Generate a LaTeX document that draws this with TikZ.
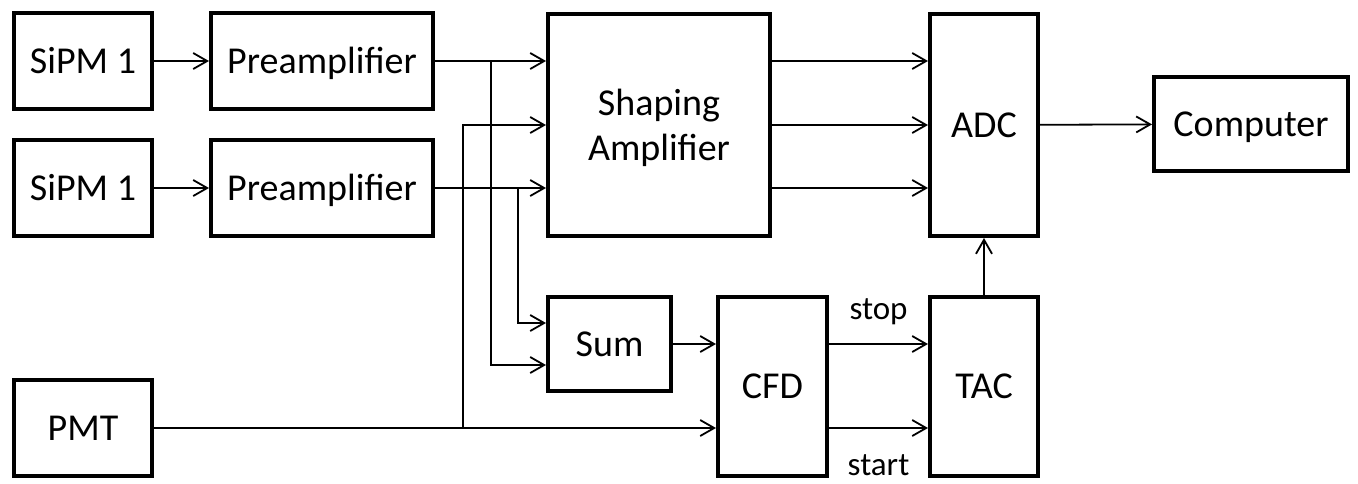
\documentclass[tikz,border=0pt]{standalone}
\usepackage{fontspec}
\setmainfont{Carlito}
\usepackage{tikz}
\usetikzlibrary{arrows.meta,positioning,calc}
\tikzset{
  arr/.style={-{Straight Barb[length=7pt,width=8pt]},line width=0.9pt,draw=black},
  blk/.style={draw=black,line width=2pt,fill=white,align=center,inner sep=0pt,
    text height=12pt,text depth=0pt,font=\fontsize{19}{22.5}\selectfont},
  lbl/.style={font=\fontsize{16.5}{19}\selectfont,inner sep=0pt}
}
\begin{document}
\begin{tikzpicture}[x=0.5pt,y=-0.5pt]
  \useasboundingbox (0,0) rectangle (1358,483);
  \node[blk,minimum width=69pt,minimum height=48pt] (sipmA) at (83,61) {SiPM 1};
  \node[blk,minimum width=111pt,minimum height=48pt] (preA) at (322,61) {Preamplifier};
  \node[blk,minimum width=69pt,minimum height=48pt] (sipmB) at (83,188) {SiPM 1};
  \node[blk,minimum width=111pt,minimum height=48pt] (preB) at (322,188) {Preamplifier};
  \node[blk,minimum width=69pt,minimum height=48pt] (pmt) at (83,428) {PMT};
  \node[blk,minimum width=111pt,minimum height=111pt,text height=35pt] (shap) at (659,125) {Shaping\\Amplifier};
  \node[blk,minimum width=54pt,minimum height=111pt] (adc) at (984,125) {ADC};
  \node[blk,minimum width=97pt,minimum height=47pt] (comp) at (1251,124) {Computer};
  \node[blk,minimum width=61.5pt,minimum height=47pt] (sum) at (609.5,344) {Sum};
  \node[blk,minimum width=54.5pt,minimum height=89.5pt] (cfd) at (772.5,386.5) {CFD};
  \node[blk,minimum width=54pt,minimum height=89.5pt] (tac) at (984,386.5) {TAC};
  % branch points
  \coordinate (jA) at (491,61);
  \coordinate (jB) at (518,188);
  \coordinate (jP) at (463,428);
  \draw[arr] (sipmA) -- (preA);
  \draw[arr] (sipmB) -- (preB);
  \draw[arr] (preA) -- (shap.west |- preA);
  \draw[arr] (preB) -- (shap.west |- preB);
  \draw[arr] (jA) |- ([yshift=-10.5pt]sum.west);
  \draw[arr] (jB) |- ([yshift=10.5pt]sum.west);
  \draw[arr] (pmt) -- (pmt -| cfd.west);
  \draw[arr] (jP) |- (shap.west);
  \draw[arr] (shap.east |- preA) -- (adc.west |- preA);
  \draw[arr] (shap) -- (adc);
  \draw[arr] (shap.east |- preB) -- (adc.west |- preB);
  \draw[arr] (adc) -- (comp);
  \draw[arr] (sum) -- (sum -| cfd.west);
  \draw[arr] (cfd.east |- sum) -- node[lbl,above=9pt] (stop) {stop} (tac.west |- sum);
  \draw[arr] (cfd.east |- pmt) -- node[lbl,below=13pt] (start) {start} (tac.west |- pmt);
  \draw[arr] (tac) -- (adc);
\end{tikzpicture}
\end{document}
